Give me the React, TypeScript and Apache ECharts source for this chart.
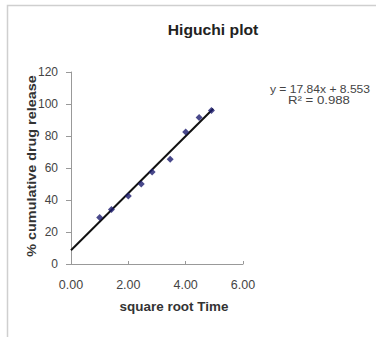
import React, { useEffect, useRef } from "react";
import * as echarts from "echarts";

const sqrtTime = [1.0, 1.41, 2.0, 2.45, 2.83, 3.46, 4.0, 4.47, 4.9];
const release = [29, 34, 42.5, 50, 57.5, 65.5, 82.5, 91.5, 96];
const slope = 17.84;
const intercept = 8.553;
const trendRange = [0, 4.96];
const xTicks = [0, 2, 4, 6];
const yTicks = [0, 20, 40, 60, 80, 100, 120];

const FONT = "'Liberation Sans', Arial, sans-serif";

export default function App() {
  const ref = useRef<HTMLDivElement>(null);
  useEffect(() => {
    if (!ref.current) return;
    const chart = echarts.init(ref.current, undefined, { renderer: "svg" });
    const trend = trendRange.map((x) => [x, slope * x + intercept]);
    chart.setOption({
      animation: false,
      backgroundColor: "#fff",
      textStyle: { fontFamily: FONT },
      grid: { left: 71, right: 133, top: 72, bottom: 73, containLabel: false },
      xAxis: {
        type: "value",
        min: xTicks[0],
        max: xTicks[xTicks.length - 1],
        interval: 2,
        axisLine: { lineStyle: { color: "#999", width: 1 } },
        axisTick: { inside: true, length: 3, lineStyle: { color: "#999" } },
        splitLine: { show: false },
        axisLabel: {
          formatter: (v: number) => v.toFixed(2),
          fontSize: 12.5,
          color: "#444",
          margin: 14,
          fontFamily: FONT,
        },
      },
      yAxis: {
        type: "value",
        min: yTicks[0],
        max: yTicks[yTicks.length - 1],
        interval: 20,
        axisLine: { show: true, lineStyle: { color: "#999", width: 1 } },
        axisTick: { show: true, inside: false, length: 5, lineStyle: { color: "#999" } },
        splitLine: { show: false },
        axisLabel: { fontSize: 12, color: "#444", margin: 13, fontFamily: FONT },
      },
      graphic: [
        {
          type: "rect",
          shape: { x: 7.5, y: 5.5, width: 400, height: 340 },
          style: { fill: "none", stroke: "#cfcfcf", lineWidth: 1.5 },
          silent: true,
        },
        {
          type: "text",
          x: 213,
          y: 30,
          scaleX: 1.12,
          style: {
            text: "Higuchi plot",
            font: `bold 14px ${FONT}`,
            fill: "#222",
            textAlign: "center",
            textVerticalAlign: "middle",
          },
        },
        {
          type: "text",
          x: 32,
          y: 166,
          rotation: Math.PI / 2,
          scaleX: 1.15,
          style: {
            text: "% cumulative drug release",
            font: `bold 12.5px ${FONT}`,
            fill: "#333",
            textAlign: "center",
            textVerticalAlign: "middle",
          },
        },
        {
          type: "text",
          x: 174,
          y: 307,
          scaleX: 1.12,
          style: {
            text: "square root Time",
            font: `bold 12px ${FONT}`,
            fill: "#333",
            textAlign: "center",
            textVerticalAlign: "middle",
          },
        },
        {
          type: "text",
          x: 320,
          y: 89,
          scaleX: 1.1,
          style: {
            text: `y = ${slope}x + ${intercept}`,
            font: `11px ${FONT}`,
            fill: "#444",
            textAlign: "center",
            textVerticalAlign: "middle",
          },
        },
        {
          type: "text",
          x: 319,
          y: 100,
          scaleX: 1.2,
          style: {
            text: "R² = 0.988",
            font: `11px ${FONT}`,
            fill: "#444",
            textAlign: "center",
            textVerticalAlign: "middle",
          },
        },
      ],
      series: [
        {
          type: "line",
          data: trend,
          showSymbol: false,
          symbol: "none",
          lineStyle: { color: "#111", width: 2 },
          z: 2,
        },
        {
          type: "scatter",
          data: sqrtTime.map((x, i) => [x, release[i]]),
          symbol: "diamond",
          symbolSize: 7,
          itemStyle: { color: "#1c1c6e" },
          z: 3,
        },
      ],
    });
    return () => chart.dispose();
  }, []);
  return (
    <div
      ref={ref}
      style={{ position: "fixed", left: 0, top: 0, width: 376, height: 337 }}
    />
  );
}
